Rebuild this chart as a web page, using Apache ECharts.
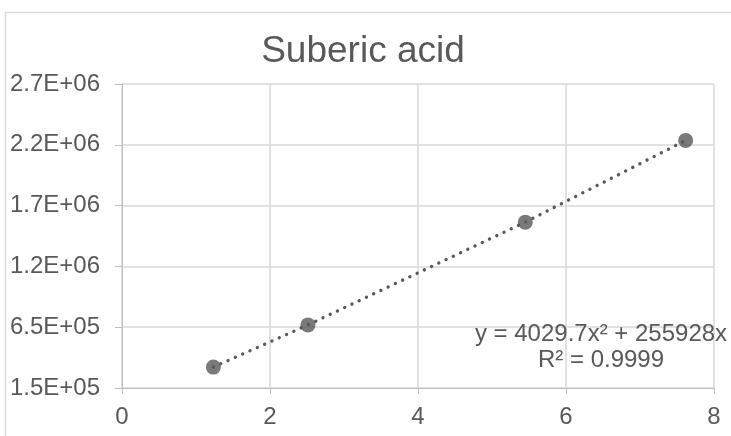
<!DOCTYPE html>
<html><head><meta charset="utf-8">
<script src="https://cdn.jsdelivr.net/npm/echarts@6/dist/echarts.min.js"></script>
<style>html,body{margin:0;padding:0;background:#fff}#c{width:731px;height:436px}</style>
</head><body><div id="c"></div>
<script>
const titleText = 'Suberic acid';
const xValues = [1.235, 2.513, 5.45, 7.617];
const yValues = [322000, 669000, 1514000, 2186000];
const yTickValues = [150000, 650000, 1150000, 1650000, 2150000, 2650000];
const yTickLabels = ['1.5E+05', '6.5E+05', '1.2E+06', '1.7E+06', '2.2E+06', '2.7E+06'];
const xTicks = [0, 2, 4, 6, 8];
const equationLines = ['y = 4029.7x\u00B2 + 255928x', 'R\u00B2 = 0.9999'];

const FONT = '"Liberation Sans", Arial, sans-serif';
const TXT = '#595959';
const yBase = yTickValues[0];
const yStep = yTickValues[1] - yTickValues[0];
const pts = xValues.map((x, i) => [x, yValues[i] - yBase]);

const chart = echarts.init(document.getElementById('c'), null, {renderer: 'canvas'});
chart.setOption({
  animation: false,
  backgroundColor: '#fff',
  title: {
    text: titleText, left: 358, top: 28, textAlign: 'center',
    textStyle: {fontFamily: FONT, fontSize: 37, fontWeight: 'normal', color: TXT}
  },
  grid: {left: 122, right: 17, top: 84, bottom: 48, containLabel: false},
  xAxis: {
    type: 'value', min: xTicks[0], max: xTicks[xTicks.length - 1], interval: xTicks[1] - xTicks[0],
    axisLine: {show: true, lineStyle: {color: '#bfbfbf', width: 1}},
    axisTick: {show: true, length: 6, lineStyle: {color: '#bfbfbf'}},
    splitLine: {show: true, lineStyle: {color: '#d9d9d9', width: 1.5}},
    axisLabel: {fontFamily: FONT, fontSize: 24, color: TXT, margin: 17}
  },
  yAxis: {
    type: 'value', min: 0, max: yTickValues[yTickValues.length - 1] - yBase, interval: yStep,
    axisLine: {show: true, lineStyle: {color: '#bfbfbf', width: 1}},
    axisTick: {show: true, length: 7, lineStyle: {color: '#bfbfbf'}},
    splitLine: {show: true, lineStyle: {color: '#d9d9d9', width: 1.5}},
    axisLabel: {fontFamily: FONT, fontSize: 24, color: TXT, margin: 22,
      formatter: v => yTickLabels[Math.round(v / yStep)]}
  },
  series: [
    {
      type: 'line', data: pts, symbol: 'none', smooth: false, z: 2,
      lineStyle: {color: TXT, width: 3.4, type: [0.01, 8], cap: 'round'}
    },
    {
      type: 'scatter', data: pts, symbol: 'circle', symbolSize: 15, z: 3,
      itemStyle: {color: TXT}
    }
  ],
  graphic: [
    {type: 'rect', z: -1, shape: {x: 5.5, y: 12.5, width: 900, height: 600},
     style: {fill: 'none', stroke: '#d9d9d9', lineWidth: 1.5}},
    {type: 'text', x: 601, y: 334, z: 10,
     style: {text: equationLines[0], font: '24px ' + FONT, fill: TXT, align: 'center', verticalAlign: 'middle', textAlign: 'center', textVerticalAlign: 'middle'}},
    {type: 'text', x: 601, y: 360, z: 10,
     style: {text: equationLines[1], font: '24px ' + FONT, fill: TXT, align: 'center', verticalAlign: 'middle', textAlign: 'center', textVerticalAlign: 'middle'}}
  ]
});
</script></body></html>
